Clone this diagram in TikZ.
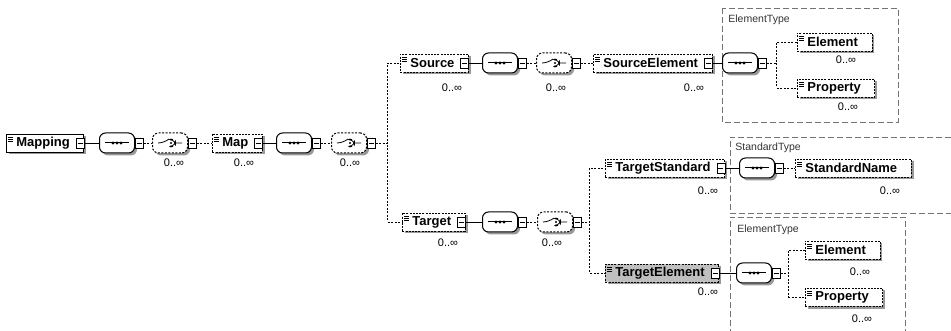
\documentclass[tikz,border=0pt]{standalone}
\usepackage{fontspec}
\setmainfont{Liberation Sans}
\usetikzlibrary{shadows}

\begin{document}
\begin{tikzpicture}[x=1pt, y=-1pt, line width=0.8pt,
    elem/.style={rectangle, draw, dash pattern=on 2pt off 1.2pt, fill=white, anchor=west,
                 minimum height=18pt, inner xsep=0pt, inner ysep=2pt,
                 font=\fontsize{13}{15}\selectfont\bfseries,
                 execute at begin node=\hspace*{10pt}, execute at end node=\hspace*{14pt},
                 drop shadow={shadow xshift=2.5pt, shadow yshift=-2.5pt, fill=black!40, opacity=1},
                 path picture={\draw[solid, line width=0.6pt]
                     ([xshift=2pt,yshift=-3.5pt]path picture bounding box.north west) -- ++(5pt,0)
                     ([xshift=2pt,yshift=-5.5pt]path picture bounding box.north west) -- ++(5pt,0)
                     ([xshift=2pt,yshift=-7.5pt]path picture bounding box.north west) -- ++(5pt,0);}},
    reqelem/.style={elem, solid},
    seq/.style={rectangle, rounded corners=6pt, draw, line width=1pt, fill=white,
                minimum width=35pt, minimum height=20pt, inner sep=0pt,
                drop shadow={shadow xshift=2.5pt, shadow yshift=-2.5pt, fill=black!40, opacity=1},
                path picture={\draw[solid, line width=1pt]
                    ([xshift=-12pt]path picture bounding box.center) -- ([xshift=12pt]path picture bounding box.center);
                  \foreach \dx in {-4,0,4}
                    \fill[black] ([xshift=\dx pt]path picture bounding box.center) circle (1.7pt);}},
    cho/.style={seq, dash pattern=on 2pt off 1.5pt,
                path picture={\draw[solid, line width=0.8pt]
                    ([xshift=-12pt]path picture bounding box.center) -- ([xshift=-6pt]path picture bounding box.center)
                    -- ([xshift=-1pt,yshift=4pt]path picture bounding box.center)
                    ([xshift=5.5pt]path picture bounding box.center) -- ([xshift=12pt]path picture bounding box.center)
                    ([xshift=3pt,yshift=3.5pt]path picture bounding box.center) -- ([xshift=5.5pt,yshift=3.5pt]path picture bounding box.center)
                    -- ([xshift=5.5pt,yshift=-3.5pt]path picture bounding box.center) -- ([xshift=3pt,yshift=-3.5pt]path picture bounding box.center);
                  \foreach \dy in {-3.5,0,3.5}
                    \fill[black] ([xshift=1pt,yshift=\dy pt]path picture bounding box.center) circle (1.1pt);}},
    tog/.style={rectangle, draw, solid, line width=0.8pt, fill=white, minimum width=8pt,
                minimum height=10pt, inner sep=0pt,
                path picture={\draw[solid] ([xshift=-2.5pt]path picture bounding box.center)
                    -- ([xshift=2.5pt]path picture bounding box.center);}},
    mult/.style={font=\fontsize{11}{13}\selectfont, inner sep=0pt},
    link/.style={dash pattern=on 2pt off 1.5pt},
    typebox/.style={draw=black!55, dash pattern=on 6pt off 3pt, line width=0.5pt},
    typelbl/.style={anchor=west, font=\fontsize{10.5}{12}\selectfont, text=black!80, inner sep=0pt}
]
    \useasboundingbox (0,0) rectangle (951,331);

    % Mapping row
    \node[reqelem] (mp) at (6,143) {Mapping};
    \node[tog] (mpt) at ([xshift=-4pt]mp.east) {};
    \node[seq] (mpS) at (117,143) {};
    \node[tog, anchor=west] (mpSt) at (mpS.east) {};
    \node[cho] (mpC) at (170,143) {};
    \node[tog, anchor=west] (mpCt) at (mpC.east) {};
    \node[mult] (mpCm) at (174,163) {0..∞};
    \node[elem] (map) at (212,143) {Map};
    \node[tog] (mapt) at ([xshift=-4pt]map.east) {};
    \node[mult] (mapm) at (244,163) {0..∞};
    \node[seq] (mapS) at (294,143) {};
    \node[tog, anchor=west] (mapSt) at (mapS.east) {};
    \node[cho] (mapC) at (349,143) {};
    \node[tog, anchor=west] (mapCt) at (mapC.east) {};
    \node[mult] (mapCm) at (350,163) {0..∞};

    \draw (mpt) -- (mpS);
    \draw[link] (mpSt) -- (mpC);
    \draw[link] (mpCt) -- (map);
    \draw (mapt) -- (mapS);
    \draw[link] (mapSt) -- (mapC);

    % Source branch
    \node[elem] (src) at (400,63) {Source};
    \node[tog] (srct) at ([xshift=-4pt]src.east) {};
    \node[mult] (srcm) at (452,88) {0..∞};
    \node[seq] (srcS) at (500,63) {};
    \node[tog, anchor=west] (srcSt) at (srcS.east) {};
    \node[cho] (srcC) at (554,63) {};
    \node[tog, anchor=west] (srcCt) at (srcC.east) {};
    \node[mult] (srcCm) at (556,88) {0..∞};
    \node[elem] (se) at (593,63) {SourceElement};
    \node[tog] (set) at ([xshift=-4pt]se.east) {};
    \node[mult] (sem) at (694,88) {0..∞};

    \draw[typebox] (722,8) rectangle (898,122);
    \node[typelbl] (setype) at (728,20) {ElementType};
    \node[seq] (seS) at (740,63) {};
    \node[tog, anchor=west] (seSt) at (seS.east) {};
    \node[elem] (seE) at (797,42) {Element};
    \node[mult] (seEm) at (846,60) {0..∞};
    \node[elem] (seP) at (797,88) {Property};
    \node[mult] (sePm) at (848,107) {0..∞};

    \draw[link] (mapCt.east) -- ++(12,0) |- (src.west);
    \draw (srct) -- (srcS);
    \draw[link] (srcSt) -- (srcC);
    \draw[link] (srcCt) -- (se);
    \draw (set) -- (seS);
    \draw[link] (seSt.east) -- ++(10,0) |- (seE.west);
    \draw[link] (seSt.east) -- ++(10,0) |- (seP.west);

    % Target branch
    \node[elem] (tgt) at (402,222) {Target};
    \node[tog] (tgtt) at ([xshift=-4pt]tgt.east) {};
    \node[mult] (tgtm) at (448,243) {0..∞};
    \node[seq] (tgtS) at (500,222) {};
    \node[tog, anchor=west] (tgtSt) at (tgtS.east) {};
    \node[cho] (tgtC) at (555,222) {};
    \node[tog, anchor=west] (tgtCt) at (tgtC.east) {};
    \node[mult] (tgtCm) at (552,243) {0..∞};

    \draw[typebox] (951,137) -| (730,213) -- (951,213);
    \node[typelbl] (sttype) at (735,148) {StandardType};
    \node[elem] (ts) at (605,168) {TargetStandard};
    \node[tog] (tst) at ([xshift=-4pt]ts.east) {};
    \node[mult] (tsm) at (708,191) {0..∞};
    \node[seq] (tsS) at (757,168) {};
    \node[tog, anchor=west] (tsSt) at (tsS.east) {};
    \node[elem] (sn) at (795,168) {StandardName};
    \node[mult] (snm) at (890,191) {0..∞};

    \draw[typebox] (730,335) |- (905,217) -- (905,335);
    \node[typelbl] (tetype) at (737,230) {ElementType};
    \node[elem, fill=black!25] (te) at (605,273) {TargetElement};
    \node[tog] (tet) at ([xshift=-4pt]te.east) {};
    \node[mult] (tem) at (708,292) {0..∞};
    \node[seq] (teS) at (754,273) {};
    \node[tog, anchor=west] (teSt) at (teS.east) {};
    \node[elem] (teE) at (805,250) {Element};
    \node[mult] (teEm) at (860,272) {0..∞};
    \node[elem] (teP) at (805,297) {Property};
    \node[mult] (tePm) at (862,319) {0..∞};

    \draw[link] (mapCt.east) -- ++(12,0) |- (tgt.west);
    \draw (tgtt) -- (tgtS);
    \draw[link] (tgtSt) -- (tgtC);
    \draw[link] (tgtCt.east) -- ++(8,0) |- (ts.west);
    \draw[link] (tgtCt.east) -- ++(8,0) |- (te.west);
    \draw (tst) -- (tsS);
    \draw[link] (tsSt) -- (sn);
    \draw (tet) -- (teS);
    \draw[link] (teSt.east) -- ++(8,0) |- (teE.west);
    \draw[link] (teSt.east) -- ++(8,0) |- (teP.west);
\end{tikzpicture}
\end{document}
